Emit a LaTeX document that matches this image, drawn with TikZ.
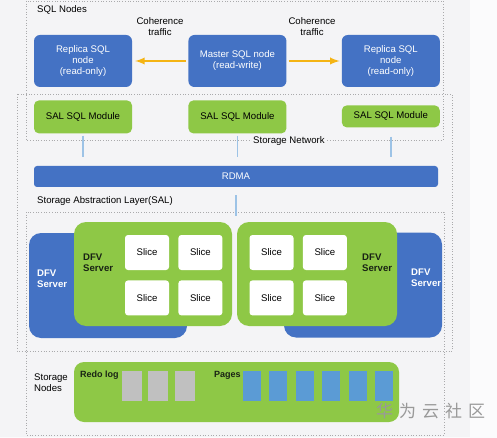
\documentclass[tikz,border=0pt]{standalone}
\usepackage{fontspec}
\setmainfont{Liberation Sans}
\newfontfamily\cjkfont{Noto Sans CJK SC}
\usetikzlibrary{positioning}
\definecolor{sqlblue}{RGB}{68,114,196}
\definecolor{salgreen}{RGB}{142,200,70}
\definecolor{trafficgold}{RGB}{244,180,20}
\definecolor{linkblue}{RGB}{157,195,230}
\definecolor{pageblue}{RGB}{91,155,213}
\definecolor{loggrey}{RGB}{192,192,192}
\definecolor{panelgrey}{RGB}{244,244,246}
\definecolor{outgrey}{RGB}{251,251,252}
\definecolor{dotgrey}{RGB}{170,170,172}
\definecolor{darktext}{RGB}{25,35,20}
\newcommand{\smallsans}{\fontsize{9.6}{11}\selectfont}
\tikzstyle{SqlNode}=[rectangle, fill=sqlblue, rounded corners=6pt, text=white, align=center, minimum width=98pt, minimum height=52pt, inner sep=0pt, font=\smallsans]
\tikzstyle{SalModule}=[rectangle, fill=salgreen, rounded corners=5pt, minimum width=98pt, minimum height=33pt, inner sep=0pt, font=\smallsans]
\tikzstyle{DfvBlue}=[rectangle, fill=sqlblue, rounded corners=12pt, minimum width=158pt, minimum height=105pt]
\tikzstyle{DfvGreen}=[rectangle, fill=salgreen, rounded corners=12pt, minimum width=158pt, minimum height=104pt]
\tikzstyle{SliceBox}=[rectangle, fill=white, rounded corners=3pt, minimum width=44pt, minimum height=35pt, inner sep=0pt, font=\smallsans]
\tikzstyle{LogBlock}=[rectangle, fill=loggrey, minimum width=20pt, minimum height=30pt, inner sep=0pt]
\tikzstyle{PageBlock}=[rectangle, fill=pageblue, minimum width=18pt, minimum height=30pt, inner sep=0pt]
\tikzstyle{Region}=[draw=dotgrey, dotted, line width=0.7pt]
\tikzstyle{Label}=[anchor=west, inner sep=0pt, align=left, font=\smallsans]
\tikzstyle{BoldLabel}=[anchor=west, inner sep=0pt, align=left, font=\smallsans\bfseries]
\tikzstyle{StoreLabel}=[anchor=west, inner sep=0pt, text=darktext, font=\fontsize{9}{11}\selectfont\bfseries]
\tikzstyle{Traffic}=[-latex, draw=trafficgold, line width=2.2pt]
\tikzstyle{Link}=[draw=linkblue, line width=1.8pt]

\begin{document}
\begin{tikzpicture}[x=1pt, y=-1pt]
			\useasboundingbox (0,0) rectangle (497,438);
			\fill[outgrey] (0,0) rectangle (497,438);
			\fill[panelgrey] (0,0) rectangle (470,437);

			%Regions
			\draw[Region] (26,1) rectangle (443,140);
			\draw[Region] (17,94) rectangle (452,351);
			\draw[Region] (26,212) rectangle (444,435);

			%Nodes
			\node[Label]		(sql_title)		at (37,10)		{SQL Nodes};
			\node[SqlNode]		(replica_l)		at (83,61)		{Replica SQL\\node\\(read-only)};
			\node[SqlNode]		(master)		[right=56pt of replica_l]	{Master SQL node\\(read-write)};
			\node[SqlNode]		(replica_r)		[right=55pt of master]		{Replica SQL\\node\\(read-only)};

			\node[font=\smallsans, align=center]	(coh_l)	at (160,27)	{Coherence\\traffic};
			\node[font=\smallsans, align=center]	(coh_r)	at (312,27)	{Coherence\\traffic};

			\node[SalModule]	(sal_l)		[below=13pt of replica_l]	{SAL SQL Module};
			\node[SalModule]	(sal_m)		[below=13pt of master]		{SAL SQL Module};
			\node[SalModule, minimum height=22pt]	(sal_r)	[below=18pt of replica_r]	{SAL SQL Module};

			\node[Label, fill=panelgrey, inner sep=1pt]	(net_title)	at (252,141)	{Storage Network};

			\node[rectangle, fill=sqlblue, rounded corners=3pt, minimum width=404pt, minimum height=21pt, inner sep=0pt, text=white, font=\smallsans]	(rdma)	at (236,176.5)	{RDMA};
			\coordinate (sal_in) at (236,216);

			\node[Label]		(sal_title)		at (37,201)		{Storage Abstraction Layer(SAL)};

			\node[DfvBlue]		(dfv_bl)		at (108,285.5)	{};
			\node[BoldLabel, text=white]	(dfv_bl_txt)	at (37,279)	{DFV\\Server};
			\node[DfvGreen]		(dfv_gl)		at (153,274)	{};
			\node[BoldLabel, text=darktext]	(dfv_gl_txt)	at (83,262.5)	{DFV\\Server};

			\node[SliceBox]		(slice_l1)		at (147,252.5)	{Slice};
			\node[SliceBox]		(slice_l2)		[right=9pt of slice_l1]	{Slice};
			\node[SliceBox]		(slice_l3)		[below=10pt of slice_l1]	{Slice};
			\node[SliceBox]		(slice_l4)		[right=9pt of slice_l3]	{Slice};

			\node[DfvBlue]		(dfv_br)		at (363,285)	{};
			\node[BoldLabel, text=white]	(dfv_br_txt)	at (411,278)	{DFV\\Server};
			\node[DfvGreen, minimum width=160pt]	(dfv_gr)	at (317,274)	{};
			\node[BoldLabel, text=darktext]	(dfv_gr_txt)	at (362,262.5)	{DFV\\Server};

			\node[SliceBox]		(slice_r1)		at (271.5,252.5)	{Slice};
			\node[SliceBox]		(slice_r2)		[right=9pt of slice_r1]	{Slice};
			\node[SliceBox]		(slice_r3)		[below=10pt of slice_r1]	{Slice};
			\node[SliceBox]		(slice_r4)		[right=9pt of slice_r3]	{Slice};

			\node[Label]		(store_title)	at (34,383)		{Storage\\Nodes};
			\node[rectangle, fill=salgreen, rounded corners=10pt, minimum width=325pt, minimum height=60pt]	(store)	at (236.5,392)	{};
			\node[StoreLabel]	(redo_txt)		at (80,375)		{Redo log};
			\node[LogBlock]		(log1)			at (132,386)	{};
			\node[LogBlock]		(log2)			[right=6pt of log1]	{};
			\node[LogBlock]		(log3)			[right=6pt of log2]	{};
			\node[StoreLabel]	(pages_txt)		at (214,375)	{Pages};
			\node[PageBlock]	(page1)			at (252,386)	{};
			\node[PageBlock]	(page2)			[right=8pt of page1]	{};
			\node[PageBlock]	(page3)			[right=8pt of page2]	{};
			\node[PageBlock]	(page4)			[right=8pt of page3]	{};
			\node[PageBlock]	(page5)			[right=8pt of page4]	{};
			\node[PageBlock]	(page6)			[right=8pt of page5]	{};

			\node[anchor=west, inner sep=0pt, text=gray!80, font=\cjkfont\fontsize{17}{17}\selectfont]	(mark)	at (376,411)	{华\hspace{6pt}为\hspace{6pt}云\hspace{6pt}社\hspace{6pt}区};

			%Lines
			\draw[Traffic, shorten <=2pt, shorten >=3pt] (master.west) -- (replica_l.east);
			\draw[Traffic, shorten <=2pt, shorten >=2pt] (master.east) -- (replica_r.west);
			\draw[Link, shorten <=2pt, shorten >=9pt] (sal_l.south) -- (sal_l.south |- rdma.north);
			\draw[Link, shorten <=2pt, shorten >=9pt] (sal_m.south) -- (sal_m.south |- rdma.north);
			\draw[Link, shorten <=9pt, shorten >=9pt] (sal_r.south) -- (sal_r.south |- rdma.north);
			\draw[Link, shorten <=8pt] (rdma.south) -- (sal_in);

		\end{tikzpicture}
\end{document}
